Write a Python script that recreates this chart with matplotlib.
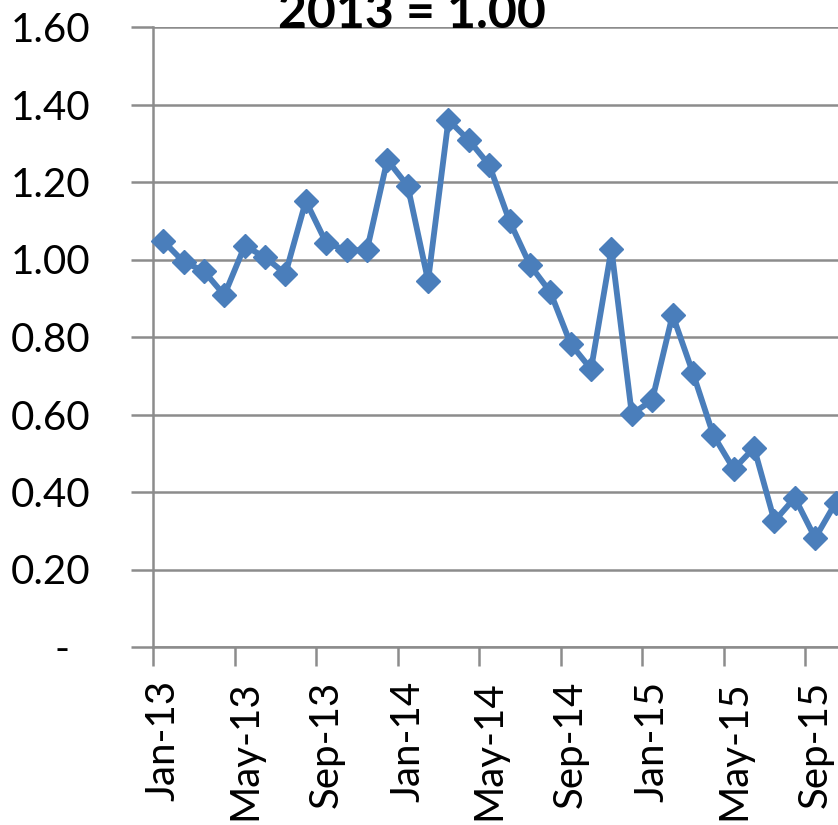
import matplotlib
matplotlib.use('Agg')
import matplotlib.pyplot as plt
import matplotlib.transforms as mtransforms

# Index values, 2013 = 1.00 (monthly)
months = ['Jan-13', 'Feb-13', 'Mar-13', 'Apr-13', 'May-13', 'Jun-13', 'Jul-13', 'Aug-13',
          'Sep-13', 'Oct-13', 'Nov-13', 'Dec-13', 'Jan-14', 'Feb-14', 'Mar-14', 'Apr-14',
          'May-14', 'Jun-14', 'Jul-14', 'Aug-14', 'Sep-14', 'Oct-14', 'Nov-14', 'Dec-14',
          'Jan-15', 'Feb-15', 'Mar-15', 'Apr-15', 'May-15', 'Jun-15', 'Jul-15', 'Aug-15',
          'Sep-15', 'Oct-15']
values = [1.048, 0.994, 0.970, 0.908, 1.035, 1.006, 0.963, 1.151,
          1.043, 1.024, 1.024, 1.257, 1.190, 0.945, 1.360, 1.308,
          1.244, 1.099, 0.986, 0.916, 0.782, 0.717, 1.027, 0.601,
          0.637, 0.857, 0.707, 0.547, 0.459, 0.514, 0.325, 0.385,
          0.281, 0.372]
yticks = [0, 0.2, 0.4, 0.6, 0.8, 1.0, 1.2, 1.4, 1.6]
ylabels = ['-  ', '0.20', '0.40', '0.60', '0.80', '1.00', '1.20', '1.40', '1.60']

plt.rcParams['font.family'] = ['Lato', 'DejaVu Sans']
blue = '#4A7EBB'
gray = '#8C8C8C'

fig = plt.figure(figsize=(8.38, 8.25), dpi=100)
# plot area runs off the right edge, like the cropped original
ax = fig.add_axes([153 / 838, 178 / 825, 36 * 20.375 / 838, 620 / 825])

x = [i + 0.5 for i in range(len(values))]
ax.plot(x, values, color=blue, linewidth=4.2, marker='D', markersize=12.5,
        markerfacecolor=blue, markeredgecolor=blue, clip_on=False, zorder=3)

ax.set_xlim(0, 36)
ax.set_ylim(0, 1.6)
ax.set_yticks(yticks)
ax.set_yticklabels(ylabels)
ax.set_xticks(range(0, 36, 4))
ax.set_xticklabels([months[i] for i in range(0, 34, 4)], rotation=90)

ax.grid(axis='y', color=gray, linewidth=1.8)
ax.set_axisbelow(True)
for s in ['top', 'right']:
    ax.spines[s].set_visible(False)
for s in ['left', 'bottom']:
    ax.spines[s].set_color(gray)
    ax.spines[s].set_linewidth(1.8)
ax.tick_params(axis='y', length=16, width=1.8, color=gray, pad=29, labelsize=29)
ax.tick_params(axis='x', length=14, width=1.8, color=gray, pad=10, labelsize=29)

# Excel puts rotated labels slightly right of the tick
shift = mtransforms.ScaledTranslation(10 / 100, 0, fig.dpi_scale_trans)
for lab in ax.get_xticklabels():
    lab.set_transform(lab.get_transform() + shift)

fig.text(412 / 838, (825 - 28) / 825, '2013 = 1.00', ha='center', va='baseline',
         fontsize=36, fontweight='bold')

fig.savefig('out.png', dpi=100)
